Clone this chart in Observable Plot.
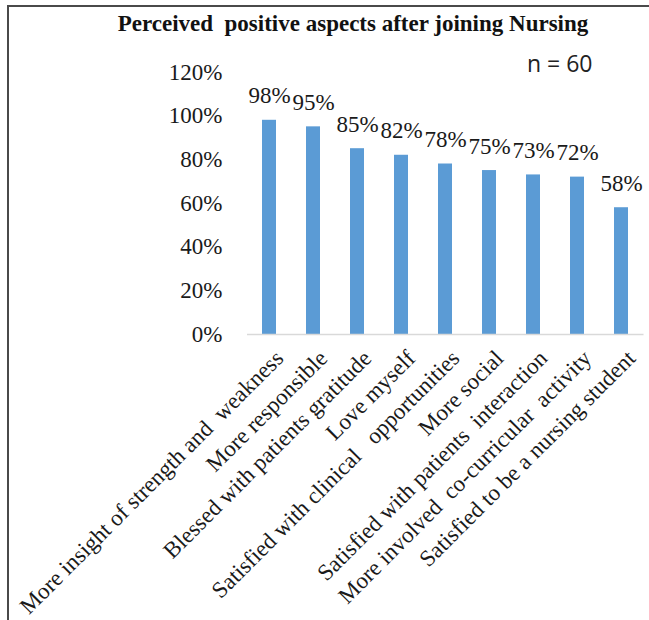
<!DOCTYPE html>
<html>
<head>
<meta charset="utf-8">
<script src="https://cdn.jsdelivr.net/npm/d3@7"></script>
<script src="https://cdn.jsdelivr.net/npm/@observablehq/plot@0.6"></script>
<style>
  html, body { margin: 0; padding: 0; background: #fff; }
  #wrap { position: relative; width: 649px; height: 620px; overflow: hidden; background: #fff; }
  #frame { position: absolute; left: 7px; top: 5px; right: -5px; bottom: -5px; border-left: 2.5px solid #4a4a4a; border-top: 2.5px solid #4a4a4a; }
  #title { position: absolute; left: 0; width: 706px; top: 11px; text-align: center; font-family: "Liberation Serif", serif; font-weight: bold; font-size: 23px; color: #111; white-space: pre; }
  #n { position: absolute; left: 527px; top: 47px; font-family: "Open Sans", sans-serif; font-size: 23px; color: #222; }
  #chart { position: absolute; left: 0; top: 0; }
  svg text { white-space: pre; }
</style>
</head>
<body>
<div id="wrap">
  <div id="frame"></div>
  <div id="chart"></div>
  <div id="title">Perceived  positive aspects after joining Nursing</div>
  <div id="n">n = 60</div>
</div>
<script>
const categories = [
  "More insight of strength and  weakness",
  "More responsible",
  "Blessed with patients gratitude",
  "Love myself",
  "Satisfied with clinical   opportunities",
  "More social",
  "Satisfied with patients  interaction",
  "More involved  co-curricular  activity",
  "Satisfied to be a nursing student"
];
const values = [98, 95, 85, 82, 78, 75, 73, 72, 58];
const yTicks = [0, 20, 40, 60, 80, 100, 120];

const data = categories.map((c, i) => ({category: c, value: values[i]}));
const serif = "'Liberation Serif', 'Times New Roman', serif";

const chart = Plot.plot({
  width: 649,
  height: 620,
  marginLeft: 247,
  marginRight: 5.5,
  marginTop: 71.7,
  marginBottom: 286,
  style: {fontFamily: serif, fontSize: "23px", color: "#1a1a1a", background: "transparent", overflow: "visible"},
  x: {domain: categories, paddingInner: 0.69, paddingOuter: 0.345, axis: null},
  y: {domain: [0, 120], axis: null},
  marks: [
    Plot.axisY({ticks: yTicks, tickSize: 0, tickPadding: 25, tickFormat: d => d + "%", label: null, fontSize: 23, fontFamily: serif}),
    Plot.axisX({tickSize: 0, tickRotate: -45, tickPadding: 20, label: null, fontSize: 23, fontFamily: serif, dx: 10}),
    Plot.barY(data, {x: "category", y: "value", fill: "#5b9bd5"}),
    Plot.ruleY([0], {stroke: "#d9d9d9", strokeWidth: 1.5}),
    Plot.text(data, {x: "category", y: "value", text: d => d.value + "%", lineAnchor: "bottom", dy: -17, fontSize: 23, fontFamily: serif, fill: "#1a1a1a"})
  ]
});
document.getElementById("chart").appendChild(chart);
</script>
</body>
</html>
